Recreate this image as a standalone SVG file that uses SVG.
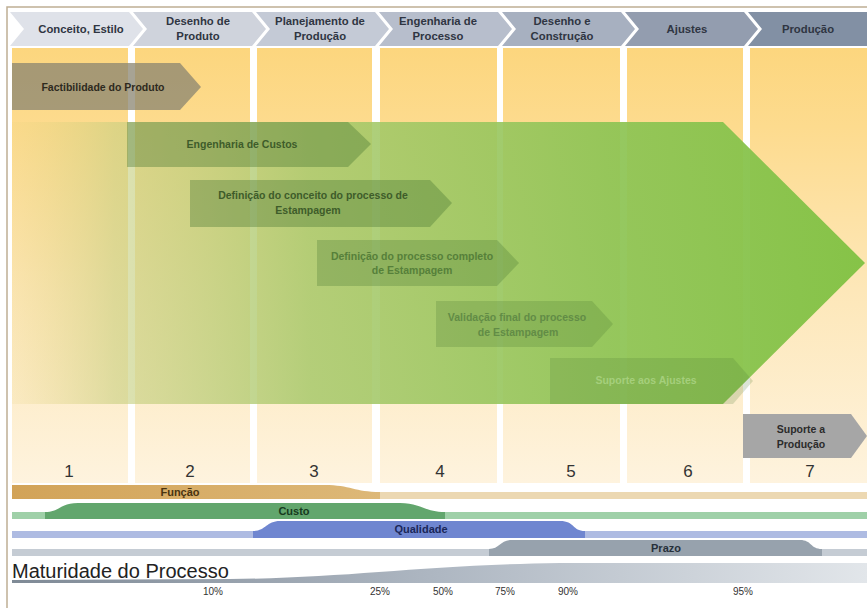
<svg xmlns="http://www.w3.org/2000/svg" width="867" height="608" viewBox="0 0 867 608">
<defs>
<linearGradient id="colGrad" gradientUnits="userSpaceOnUse" x1="0" y1="48" x2="0" y2="483">
<stop offset="0" stop-color="#fcd67e"/>
<stop offset="0.18" stop-color="#fddb8e"/>
<stop offset="0.55" stop-color="#fde7b8"/>
<stop offset="1" stop-color="#fef3de"/>
</linearGradient>
<linearGradient id="bigGreen" gradientUnits="userSpaceOnUse" x1="12" y1="0" x2="865" y2="0">
<stop offset="0" stop-color="#e8d27c" stop-opacity="0.15"/>
<stop offset="0.12" stop-color="#c8cf80" stop-opacity="0.6"/>
<stop offset="0.35" stop-color="#a8c96c" stop-opacity="0.86"/>
<stop offset="0.7" stop-color="#8ec455" stop-opacity="0.93"/>
<stop offset="1" stop-color="#82c244" stop-opacity="0.97"/>
</linearGradient>
<linearGradient id="funcGrad" gradientUnits="userSpaceOnUse" x1="12" y1="0" x2="380" y2="0">
<stop offset="0" stop-color="#d2a358"/>
<stop offset="1" stop-color="#ddb878"/>
</linearGradient>
<linearGradient id="matGrad" gradientUnits="userSpaceOnUse" x1="12" y1="0" x2="867" y2="0">
<stop offset="0" stop-color="#7f8a96"/>
<stop offset="0.5" stop-color="#aeb7c2"/>
<stop offset="1" stop-color="#e2e6ea"/>
</linearGradient>
</defs>
<style>
.hdr { font-family: "Liberation Sans", Arial, sans-serif; font-weight: bold; font-size: 11.3px; fill: #2f3542; text-anchor: middle; }
.col { fill: url(#colGrad); }
.inner { fill: #4d7a34; }
.atxt { font-family: "Liberation Sans", Arial, sans-serif; font-weight: bold; font-size: 10.5px; text-anchor: middle; }
.num { font-family: "Liberation Sans", Arial, sans-serif; font-size: 17px; fill: #333333; text-anchor: middle; }
.bar { font-family: "Liberation Sans", Arial, sans-serif; font-weight: bold; font-size: 11px; text-anchor: middle; }
.pct { font-family: "Liberation Sans", Arial, sans-serif; font-size: 10px; fill: #333333; text-anchor: middle; }
</style>
<rect x="0" y="0" width="867" height="608" fill="#ffffff"/>
<path d="M7,608 L7,7 L867,7" fill="none" stroke="#bfae94" stroke-width="1.5"/>

<g id="columns">
<rect class="col" x="12" y="48" width="116" height="435"/>
<rect class="col" x="135" y="48" width="115" height="435"/>
<rect class="col" x="257" y="48" width="115" height="435"/>
<rect class="col" x="380" y="48" width="117" height="435"/>
<rect class="col" x="503" y="48" width="117" height="435"/>
<rect class="col" x="627" y="48" width="116" height="435"/>
<rect class="col" x="750" y="48" width="117" height="435"/>
</g>

<g id="header">
<g id="h1"><polygon points="10,12 129,12 143,29 129,46 10,46 24,29" fill="#dfe2e9"/><text class="hdr" x="81" y="33">Conceito, Estilo</text></g>
<g id="h2"><polygon points="133,12 252,12 266,29 252,46 133,46 147,29" fill="#cfd3dc"/><text class="hdr" x="198" y="25">Desenho de</text><text class="hdr" x="198" y="40">Produto</text></g>
<g id="h3"><polygon points="256,12 375,12 389,29 375,46 256,46 270,29" fill="#c4cad6"/><text class="hdr" x="320" y="25">Planejamento de</text><text class="hdr" x="320" y="40">Produção</text></g>
<g id="h4"><polygon points="379,12 498,12 512,29 498,46 379,46 393,29" fill="#b7becc"/><text class="hdr" x="438" y="25">Engenharia de</text><text class="hdr" x="438" y="40">Processo</text></g>
<g id="h5"><polygon points="502,12 621,12 635,29 621,46 502,46 516,29" fill="#a7b0c0"/><text class="hdr" x="562" y="25">Desenho e</text><text class="hdr" x="562" y="40">Construção</text></g>
<g id="h6"><polygon points="625,12 744,12 758,29 744,46 625,46 639,29" fill="#939daf"/><text class="hdr" x="687" y="33">Ajustes</text></g>
<g id="h7"><polygon points="748,12 867,12 867,46 748,46 762,29" fill="#8290a4"/><text class="hdr" x="808" y="33">Produção</text></g>
</g>

<g id="factibilidade">
<polygon points="12,63 180,63 201,87 180,110 12,110" fill="#8a8470" fill-opacity="0.75"/>
<text class="atxt" x="103" y="91" font-size="11" fill="#2e2a1e">Factibilidade do Produto</text>
</g>

<g id="big-arrow">
<polygon points="12,122 723,122 865,263 723,404 12,404" fill="url(#bigGreen)"/>
</g>

<g id="engenharia-custos">
<polygon class="inner" points="127,122 348,122 371,144 348,167 127,167" fill-opacity="0.4"/>
<text class="atxt" x="242" y="148" fill="#3e5c2a">Engenharia de Custos</text>
</g>
<g id="definicao-conceito">
<polygon class="inner" points="190,180 430,180 452,203 430,227 190,227" fill-opacity="0.38"/>
<text class="atxt" x="313" y="199" fill="#3e5c2a">Definição do conceito do processo de</text>
<text class="atxt" x="308" y="214" fill="#3e5c2a">Estampagem</text>
</g>
<g id="definicao-completo">
<polygon class="inner" points="317,240 497,240 519,263 497,286 317,286" fill-opacity="0.3"/>
<text class="atxt" x="412" y="260" fill="#56803a">Definição do processo completo</text>
<text class="atxt" x="412" y="274" fill="#56803a">de Estampagem</text>
</g>
<g id="validacao">
<polygon class="inner" points="436,301 592,301 613,324 592,347 436,347" fill-opacity="0.24"/>
<text class="atxt" x="517" y="321" fill="#628c46">Validação final do processo</text>
<text class="atxt" x="518" y="336" fill="#628c46">de Estampagem</text>
</g>
<g id="suporte-ajustes">
<polygon class="inner" points="550,358 733,358 753,381 733,404 550,404" fill-opacity="0.2"/>
<text class="atxt" x="646" y="384" fill="#a5cf7c">Suporte aos Ajustes</text>
</g>
<g id="suporte-producao">
<polygon points="743,414 851,414 867,436 851,458 743,458" fill="#a6a6a6"/>
<text class="atxt" x="801" y="433" font-size="10" fill="#2b2b2b">Suporte a</text>
<text class="atxt" x="801" y="448" font-size="10" fill="#2b2b2b">Produção</text>
</g>

<g id="numbers">
<text class="num" x="69" y="477">1</text>
<text class="num" x="190" y="477">2</text>
<text class="num" x="314" y="477">3</text>
<text class="num" x="440" y="477">4</text>
<text class="num" x="571" y="477">5</text>
<text class="num" x="688" y="477">6</text>
<text class="num" x="810" y="477">7</text>
</g>

<g id="funcao">
<rect x="12" y="492" width="855" height="7" fill="#ecd8b2"/>
<path d="M12,485 L325,485 C350,485 355,492 380,492 L380,499 L12,499 Z" fill="url(#funcGrad)"/>
<text class="bar" x="180" y="496" fill="#4a3410">Função</text>
</g>
<g id="custo">
<rect x="12" y="512" width="855" height="7" fill="#9fd0a8"/>
<path d="M45,512 C60,512 60,503 78,503 L400,503 C420,503 425,512 445,512 L445,519 L45,519 Z" fill="#62a66d"/>
<text class="bar" x="294" y="515" fill="#173a1e">Custo</text>
</g>
<g id="qualidade">
<rect x="12" y="531" width="855" height="7" fill="#aebbe2"/>
<path d="M253,531 C266,531 266,521 280,521 L560,521 C575,521 572,531 585,531 L585,538 L253,538 Z" fill="#6f86d0"/>
<text class="bar" x="421" y="533" fill="#1a2758">Qualidade</text>
</g>
<g id="prazo">
<rect x="12" y="549" width="855" height="7" fill="#c5ccd4"/>
<path d="M489,549 C500,549 500,540 512,540 L800,540 C812,540 810,549 822,549 L822,556 L489,556 Z" fill="#97a2ad"/>
<text class="bar" x="666" y="552" fill="#26303a">Prazo</text>
</g>

<g id="maturidade">
<path d="M12,580 L230,579 C350,578 420,565 560,563 L867,563 L867,583 L12,583 Z" fill="url(#matGrad)"/>
<text x="12" y="578" font-family="Liberation Sans, Arial, sans-serif" font-size="20" fill="#222222">Maturidade do Processo</text>
<text class="pct" x="213" y="595">10%</text>
<text class="pct" x="380" y="595">25%</text>
<text class="pct" x="443" y="595">50%</text>
<text class="pct" x="505" y="595">75%</text>
<text class="pct" x="568" y="595">90%</text>
<text class="pct" x="743" y="595">95%</text>
</g>
</svg>
